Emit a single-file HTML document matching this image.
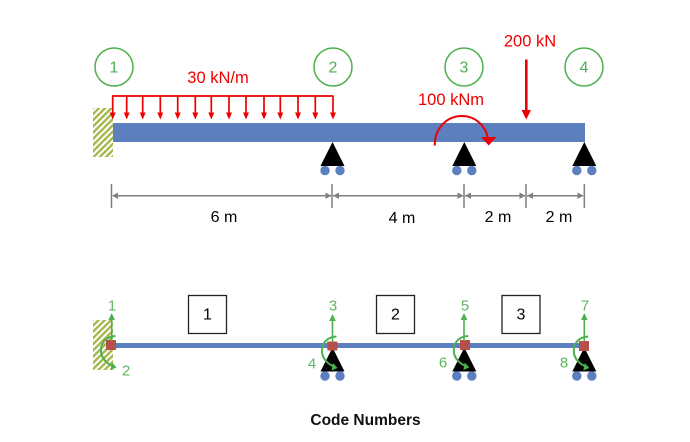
<!DOCTYPE html>
<html><head><meta charset="utf-8"><style>
html,body{margin:0;padding:0;background:#fff}
svg{display:block}
text{font-family:"Liberation Sans",sans-serif;text-anchor:middle}
</style></head><body>
<svg width="690" height="442" viewBox="0 0 690 442" xmlns="http://www.w3.org/2000/svg">
<defs>
<pattern id="h" width="4.400" height="4.400" patternUnits="userSpaceOnUse" patternTransform="rotate(45)">
<rect width="4.400" height="4.400" fill="#fff"/><rect width="2.400" height="4.400" fill="#a6b84e"/>
</pattern>
<g id="sup"><path d="M0 0L12 24H-12Z" fill="#000"/><circle cx="-7.500" cy="28.500" r="4.700" fill="#5b7fbf"/><circle cx="7.500" cy="28.500" r="4.700" fill="#5b7fbf"/></g>
<g id="dof">
<path d="M0 -2V-24" stroke="#4db04f" stroke-width="1.600" fill="none"/><path d="M0 -30L3.300 -23H-3.300Z" fill="#4db04f"/>
</g>
<g id="mom">
<path d="M4 -8.500C-7 -8 -11 0 -10.500 7C-10 14 -4 20 3 22" stroke="#4db04f" stroke-width="2" fill="none"/><path d="M5 23L-1 25.500L0.500 18Z" fill="#4db04f"/>
</g>
</defs>

<!-- top beam -->
<rect x="93" y="108" width="20" height="49" fill="url(#h)"/>
<rect x="113" y="123" width="472" height="19" fill="#5b7fbf"/>

<g fill="none" stroke="#4db04f" stroke-width="1.500">
<circle cx="114" cy="67" r="19"/><circle cx="333" cy="67" r="19"/><circle cx="464" cy="67" r="19"/><circle cx="584" cy="67" r="19"/>
</g>
<g fill="#4db04f" font-size="16">
<text x="114" y="72.500">1</text><text x="333" y="72.500">2</text><text x="464" y="72.500">3</text><text x="584" y="72.500">4</text>
</g>

<!-- UDL -->
<path d="M112 96H333.500" stroke="#ee0000" stroke-width="1.800" fill="none"/>
<g fill="#ee0000">
<path d="M112.700 96V113M126.700 96V113M142.700 96V113M160.300 96V113M177.700 96V113M195.300 96V113M211.300 96V113M229 96V113M246 96V113M264 96V113M280.300 96V113M298 96V113M315.300 96V113M333 96V113" stroke="#ee0000" stroke-width="1.700"/>
<path d="M112.700 119.500l-3-7h6zM126.700 119.500l-3-7h6zM142.700 119.500l-3-7h6zM160.300 119.500l-3-7h6zM177.700 119.500l-3-7h6zM195.300 119.500l-3-7h6zM211.300 119.500l-3-7h6zM229 119.500l-3-7h6zM246 119.500l-3-7h6zM264 119.500l-3-7h6zM280.300 119.500l-3-7h6zM298 119.500l-3-7h6zM315.300 119.500l-3-7h6zM333 119.500l-3-7h6z"/>
</g>
<g fill="#ee0000" font-size="16.500">
<text x="218" y="83">30 kN/m</text>
<text x="451" y="105">100 kNm</text>
<text x="530" y="46.500">200 kN</text>
</g>

<!-- point load -->
<path d="M526.300 59.500V111" stroke="#ee0000" stroke-width="2.600" fill="none"/>
<path d="M526.300 119.500L521.500 110H531Z" fill="#ee0000"/>

<!-- supports -->
<use href="#sup" x="332.500" y="142"/>
<use href="#sup" x="464.300" y="142"/>
<use href="#sup" x="584.300" y="142"/>

<!-- moment -->
<path d="M434.700 145.500C434.700 128 447 116 462 116C475 116 485 125 488 138" stroke="#ee0000" stroke-width="2" fill="none"/>
<path d="M481 137H496.300L488.700 145.500Z" fill="#ee0000"/>

<!-- dimensions -->
<g stroke="#7f7f7f" stroke-width="1.500" fill="none">
<path d="M111.500 184V208M332 184V208M464 184V208M526 184V208M584.300 184V208"/>
<path d="M113 195.700H331M333 195.700H463M465 195.700H525M527 195.700H583"/>
</g>
<g fill="#7f7f7f">
<path d="M112 195.700l6-3.200v6.400zM331.500 195.700l-6-3.200v6.400zM333 195.700l6-3.200v6.400zM463.500 195.700l-6-3.200v6.400zM465 195.700l6-3.200v6.400zM525.500 195.700l-6-3.200v6.400zM527 195.700l6-3.200v6.400zM583.500 195.700l-6-3.200v6.400z"/>
</g>
<g fill="#000" font-size="16">
<text x="224" y="222">6 m</text>
<text x="402" y="223">4 m</text>
<text x="498" y="222">2 m</text>
<text x="559" y="222">2 m</text>
</g>

<!-- lower beam -->
<rect x="93" y="320" width="20" height="50" fill="url(#h)"/>
<rect x="113" y="343" width="472" height="5" fill="#5b7fbf"/>
<use href="#sup" x="332.500" y="347.500"/>
<use href="#sup" x="464.300" y="347.500"/>
<use href="#sup" x="584.300" y="347.500"/>

<g fill="#b5504a">
<rect x="106" y="340" width="10" height="10"/>
<rect x="327.300" y="341.500" width="10" height="9"/>
<rect x="460" y="340" width="10" height="10"/>
<rect x="579" y="341" width="10" height="10"/>
</g>

<use href="#dof" x="111.700" y="343"/>
<use href="#dof" x="332.500" y="344"/>
<use href="#dof" x="464" y="343"/>
<use href="#dof" x="584.300" y="343"/>
<use href="#mom" x="111.500" y="344.500"/>
<use href="#mom" x="332.500" y="345"/>
<use href="#mom" x="464.300" y="344.500"/>
<use href="#mom" x="584.300" y="345"/>

<g fill="#5bb85f" font-size="15">
<text x="112" y="310.500">1</text><text x="126" y="375.500">2</text>
<text x="333" y="310.500">3</text><text x="312" y="368.500">4</text>
<text x="465" y="310.500">5</text><text x="443" y="367.500">6</text>
<text x="585" y="310.500">7</text><text x="564" y="367.500">8</text>
</g>

<!-- boxes -->
<g fill="#fff" stroke="#222" stroke-width="1.300">
<rect x="188.500" y="295.500" width="38" height="38"/>
<rect x="376.500" y="295.500" width="38" height="38"/>
<rect x="502" y="295.500" width="38" height="38"/>
</g>
<g fill="#000" font-size="16">
<text x="207.500" y="319.500">1</text><text x="395.500" y="319.500">2</text><text x="521" y="319.500">3</text>
</g>

<text x="365.500" y="425" font-size="15.500" font-weight="bold" fill="#111">Code Numbers</text>
</svg>
</body></html>
